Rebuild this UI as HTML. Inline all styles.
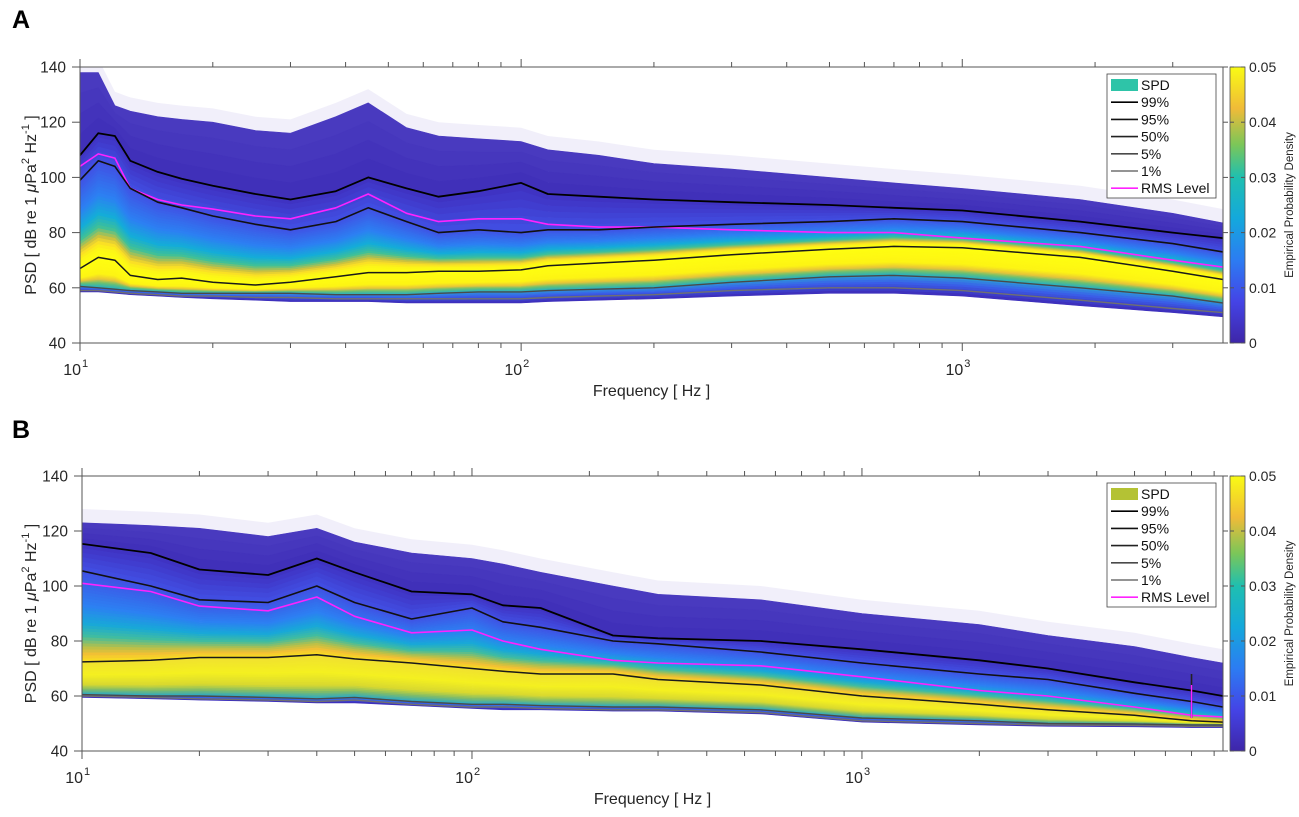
<!DOCTYPE html>
<html><head><meta charset="utf-8">
<style>
html,body{margin:0;padding:0;background:#fff;}
svg{display:block;font-family:"Liberation Sans",Arial,sans-serif;}
</style></head>
<body>
<svg id="fig" width="1299" height="817" viewBox="0 0 1299 817" xmlns="http://www.w3.org/2000/svg">
<defs>
<linearGradient id="cbar" x1="0" y1="1" x2="0" y2="0">
<stop offset="0" stop-color="#3e26a8"/><stop offset="0.15" stop-color="#4444e6"/><stop offset="0.3" stop-color="#2c7cf2"/>
<stop offset="0.45" stop-color="#14a8dc"/><stop offset="0.6" stop-color="#1fbfb0"/><stop offset="0.72" stop-color="#7cc658"/>
<stop offset="0.85" stop-color="#f0bb38"/><stop offset="1" stop-color="#f9fb14"/>
</linearGradient>
</defs>
</svg>
<script>
// ---------- Panel A data ----------
const freqA = [10,11,12,13,15,17,20,25,30,38,45,55,65,80,100,115,150,200,300,500,700,1000,1850,3000,3900];
const p99A  = [108,116,115,106,102,99.5,97,94,92,95,100,96,93,95,98,94,93,92,91,90,89,88,84,80,78];
const p95A  = [99,106,104,96,91,89,86,83,81,84,89,84,80,81,80,81,81,82,83,84,85,84,80,76,73];
const rmsA  = [104,108.5,107,96,92,90,88.5,86,85,89,94,87,84,85,85,83,82,82,81,80,80,78,75,70,67.5];
const p50A  = [67,71,70,64.5,63,63.5,62,61,62,64,65.5,65.5,66,66,66.5,68,69,70,72,74,75,74.5,71,66,63];
const p5A   = [60.5,60,59.5,59,58.5,58,58,58,58,57.5,57.5,57.5,58,58.5,58.5,59,59.5,60,62,64,64.5,63.5,60,57,54.5];
const p1A   = [59,59,58.5,58,57.5,57,57,56.5,56.5,56,56,56,56,56,56,56.5,57,57.5,59,60,60,59,55.5,52.5,51];
const topA  = [138,138,126,124,122,121,120,117,116,122,127,118,115,114,113,110,108,105,103,100,98,96,92,87,83.5];
const botA  = [58.5,58.5,58,57.5,57,56.5,56,55.5,55,55,55,54.5,54.5,54.5,54.5,55,55.5,56,57,58,58,57,53.5,51,49.5];
// ---------- Panel B data ----------
const freqB = [10,15,20,30,40,50,70,100,120,150,230,300,550,1000,2000,3000,5000,7000,8430];
const p99B  = [115.3,112,106,104,110,105,98,97,93,92,82,81,80,77,73,70,65,62,60];
const p95B  = [105.5,100,95,94,100,94,88,92,87,85,80,79,76,72,68,66,61,58,56];
const rmsB  = [101,98,92.7,91,96,89,83,84,80,77,73,72,71,67,62,60,56,53,52.4];
const p50B  = [72.4,73,74,74,75,73.5,72,70,69,68,68,66,64,60,57,55,53,51,50.5];
const p5B   = [60.5,60,60,59.5,59,59.5,58,57,57,56.5,56,56,55,52,51,50,49.8,49.5,49.5];
const p1B   = [60,59.5,59,58.5,58,58.5,57,56,56,55.5,55,55,54,51,50,49.5,49.3,49,49];
const topB  = [123,122,121,118,121,116,112,110,108,105,100,97,95,90,86,82,78,74,72];
const botB  = [59.5,59,58.5,58,57.5,57.5,56.5,55.5,55,55,54.5,54.5,53.5,50.5,49.5,49,48.8,48.5,48.5];
const yTicks = [40,60,80,100,120,140];
const cbTicks = ["0","0.01","0.02","0.03","0.04","0.05"];
const legendLabels = ["SPD","99%","95%","50%","5%","1%","RMS Level"];

const NS="http://www.w3.org/2000/svg";
const svg=document.getElementById('fig');
function el(tag,attrs,parent){const e=document.createElementNS(NS,tag);for(const k in attrs)e.setAttribute(k,attrs[k]);(parent||svg).appendChild(e);return e;}
function hex(c){return [parseInt(c.slice(1,3),16),parseInt(c.slice(3,5),16),parseInt(c.slice(5,7),16)];}
function mix(a,b,t){const A=hex(a),B=hex(b);return 'rgb('+A.map((v,i)=>Math.round(v+(B[i]-v)*t)).join(',')+')';}
function colorAt(stops,t){for(let i=1;i<stops.length;i++){if(t<=stops[i][0]){const s=stops[i-1],e=stops[i];return mix(s[1],e[1],(t-s[0])/(e[0]-s[0]||1));}}return stops[stops.length-1][1];}

function panel(cfg){
  const g=el('g',{});
  
  
  const {x0,x1,y0,y1,fmin,fmax}=cfg;
  const X=f=>x0+(Math.log10(f)-Math.log10(fmin))/(Math.log10(fmax)-Math.log10(fmin))*(x1-x0);
  const Y=v=>y1-(v-40)/(140-40)*(y1-y0);
  const fr=cfg.freq;
  const poly=(up,lo)=>{let pts=fr.map((f,i)=>X(f).toFixed(1)+','+Y(up[i]).toFixed(1));for(let i=fr.length-1;i>=0;i--)pts.push(X(fr[i]).toFixed(1)+','+Y(lo[i]).toFixed(1));return pts.join(' ');};
  const lerpArr=(a,b,t)=>a.map((v,i)=>v+(b[i]-v)*t);
  const clip=el('clipPath',{id:'clip'+cfg.id},g);el('rect',{x:x0,y:y0,width:x1-x0,height:y1-y0},clip);
  const spd=el('g',{'clip-path':'url(#clip'+cfg.id+')'},g);
  
  
  el('polygon',{points:poly(cfg.top.map(v=>v+5),cfg.top),fill:'#cfcaf0',opacity:0.3},spd);
  function band(up,lo,stops,n){for(let k=0;k<n;k++){const a=lerpArr(up,lo,k/n),b=lerpArr(up,lo,(k+1)/n);const c=colorAt(stops,(k+0.5)/n);el('polygon',{points:poly(a,b),fill:c,stroke:c,'stroke-width':0.6},spd);}}
  band(cfg.top,cfg.p99,[[0,'#4a3cc0'],[1,'#3f2eb8']],4);
  band(cfg.p99,cfg.p95,[[0,'#3f30c0'],[1,'#4150e4']],6);
  band(cfg.p95,cfg.p50,cfg.upStops,30);
  band(cfg.p50,cfg.p5,cfg.loStops,24);
  band(cfg.p5,cfg.bot,[[0,'#2c9ad8'],[0.4,'#3a60ea'],[1,'#3e2cb8']],8);
  const line=(arr,col,w,name)=>{const p=el('polyline',{points:fr.map((f,i)=>X(f).toFixed(1)+','+Y(arr[i]).toFixed(1)).join(' '),fill:'none',stroke:col,'stroke-width':w,'stroke-linejoin':'round','clip-path':'url(#clip'+cfg.id+')'},g);};
  line(cfg.p1,'#707070',1.4,'line-p1');
  line(cfg.p5,'#4a4a4a',1.4,'line-p5');
  line(cfg.p50,'#1a1a1a',1.5,'line-p50');
  line(cfg.rms,'#ff22ff',1.6,'line-rms');
  line(cfg.p95,'#111',1.6,'line-p95');
  line(cfg.p99,'#000',1.8,'line-p99');
  if(cfg.spike){const sx=X(cfg.spike);el('line',{x1:sx,x2:sx,y1:Y(68),y2:Y(52),stroke:'#222','stroke-width':1.6},g);el('line',{x1:sx,x2:sx,y1:Y(64),y2:Y(52),stroke:'#ff22ff','stroke-width':1.4},g);}
  const ax=el('g',{stroke:'#555','stroke-width':1,fill:'none'},g);
  
  
  el('line',{x1:x0,y1:y0,x2:x0,y2:y1},ax);el('line',{x1:x0,y1:y1,x2:x1,y2:y1},ax);
  el('line',{x1:x0,y1:y0,x2:x1,y2:y0},ax);el('line',{x1:x1,y1:y0,x2:x1,y2:y1},ax);
  for(let d=1;d<=3;d++)for(let m=1;m<=9;m++){const f=m*Math.pow(10,d);if(f<fmin||f>fmax)continue;const x=X(f);const L=m===1?8:5;el('line',{x1:x,x2:x,y1:y1,y2:y1+L},ax);el('line',{x1:x,x2:x,y1:y0,y2:y0-L},ax);}
  [1,2,3].forEach(d=>{const x=X(Math.pow(10,d));const t=el('text',{x:x+1,y:y1+32,'font-size':16,fill:'#262626','text-anchor':'end'},g);t.textContent='10';const s=el('text',{x:x+2,y:y1+24,'font-size':11,fill:'#262626'},g);s.textContent=String(d);});
  yTicks.forEach(v=>{const y=Y(v);el('line',{x1:x0-8,x2:x0,y1:y,y2:y},ax);el('line',{x1:x1,x2:x1+5,y1:y,y2:y},ax);const t=el('text',{x:x0-14,y:y+5.5,'font-size':15.5,fill:'#262626','text-anchor':'end'},g);t.textContent=String(v);});
  const xt=el('text',{x:(x0+x1)/2,y:y1+53,'font-size':16,fill:'#262626','text-anchor':'middle'},g);xt.textContent='Frequency [ Hz ]';
  const yt=el('text',{transform:'translate(36,'+((y0+y1)/2)+') rotate(-90)','font-size':16,fill:'#262626','text-anchor':'middle'},g);
  
  yt.innerHTML='PSD [ dB re 1 <tspan font-style="italic">μ</tspan>Pa<tspan dy="-7" font-size="11">2</tspan><tspan dy="7"> Hz</tspan><tspan dy="-7" font-size="11">-1</tspan><tspan dy="7"> ]</tspan>';
  const pl=el('text',{x:12,y:cfg.letterY,'font-size':25,'font-weight':'bold',fill:'#000'},g);pl.textContent=cfg.letter;
  const cb=el('g',{},g);
  el('rect',{x:1230,y:y0,width:15,height:y1-y0,fill:'url(#cbar)',stroke:'#555','stroke-width':0.8},cb);
  cbTicks.forEach((s,i)=>{const y=y1-i/5*(y1-y0);el('line',{x1:1230,x2:1234,y1:y,y2:y,stroke:'#555'},cb);el('line',{x1:1241,x2:1245,y1:y,y2:y,stroke:'#555'},cb);const t=el('text',{x:1249,y:y+5,'font-size':14,fill:'#262626'},cb);t.textContent=s;});
  const ct=el('text',{transform:'translate(1293,'+((y0+y1)/2)+') rotate(-90)','font-size':11.5,fill:'#262626','text-anchor':'middle'},cb);ct.textContent='Empirical Probability Density';
  const lg=el('g',{},g);
  const ly=cfg.legendY;
  el('rect',{x:1107,y:ly,width:109,height:124,fill:'#fff',stroke:'#444','stroke-width':0.8},lg);
  const lcols=[cfg.spdColor,'#000','#111','#222','#4a4a4a','#707070','#ff22ff'];
  legendLabels.forEach((s,i)=>{const yy=ly+11+i*17.2;
    if(i===0)el('rect',{x:1111,y:yy-6,width:27,height:12,fill:lcols[0]},lg);
    else el('line',{x1:1111,x2:1138,y1:yy,y2:yy,stroke:lcols[i],'stroke-width':1.6},lg);
    const t=el('text',{x:1141,y:yy+5,'font-size':14,fill:'#111'},lg);t.textContent=s;});
}

panel({id:'A',name:'panel-a',letter:'A',letterY:28,x0:80,x1:1223,y0:67,y1:343,fmin:10,fmax:3900,
  freq:freqA,p99:p99A,p95:p95A,rms:rmsA,p50:p50A,p5:p5A,p1:p1A,top:topA,bot:botA,legendY:74,spdColor:'#2ec4a8',
  upStops:[[0,'#4150e4'],[0.35,'#2c80f2'],[0.55,'#14acd8'],[0.68,'#3cc09a'],[0.78,'#c8c040'],[0.84,'#fadc28'],[0.9,'#fbf418'],[1,'#ffff10']],
  loStops:[[0,'#ffff10'],[0.55,'#fdf414'],[0.72,'#e8c438'],[0.84,'#6cc070'],[1,'#20b0c8']]});
panel({id:'B',name:'panel-b',letter:'B',letterY:438,x0:82,x1:1223,y0:476,y1:751,fmin:10,fmax:8430,spike:7000,
  freq:freqB,p99:p99B,p95:p95B,rms:rmsB,p50:p50B,p5:p5B,p1:p1B,top:topB,bot:botB,legendY:483,spdColor:'#b4c234',
  upStops:[[0,'#4150e4'],[0.38,'#2c80f2'],[0.58,'#18a8d8'],[0.72,'#40bca0'],[0.84,'#b8c048'],[0.92,'#f4c034'],[1,'#f8e020']],
  loStops:[[0,'#f0e030'],[0.4,'#f4f020'],[0.7,'#d8d830'],[0.85,'#80bc68'],[1,'#28a8c8']]});
</script>
</body></html>
